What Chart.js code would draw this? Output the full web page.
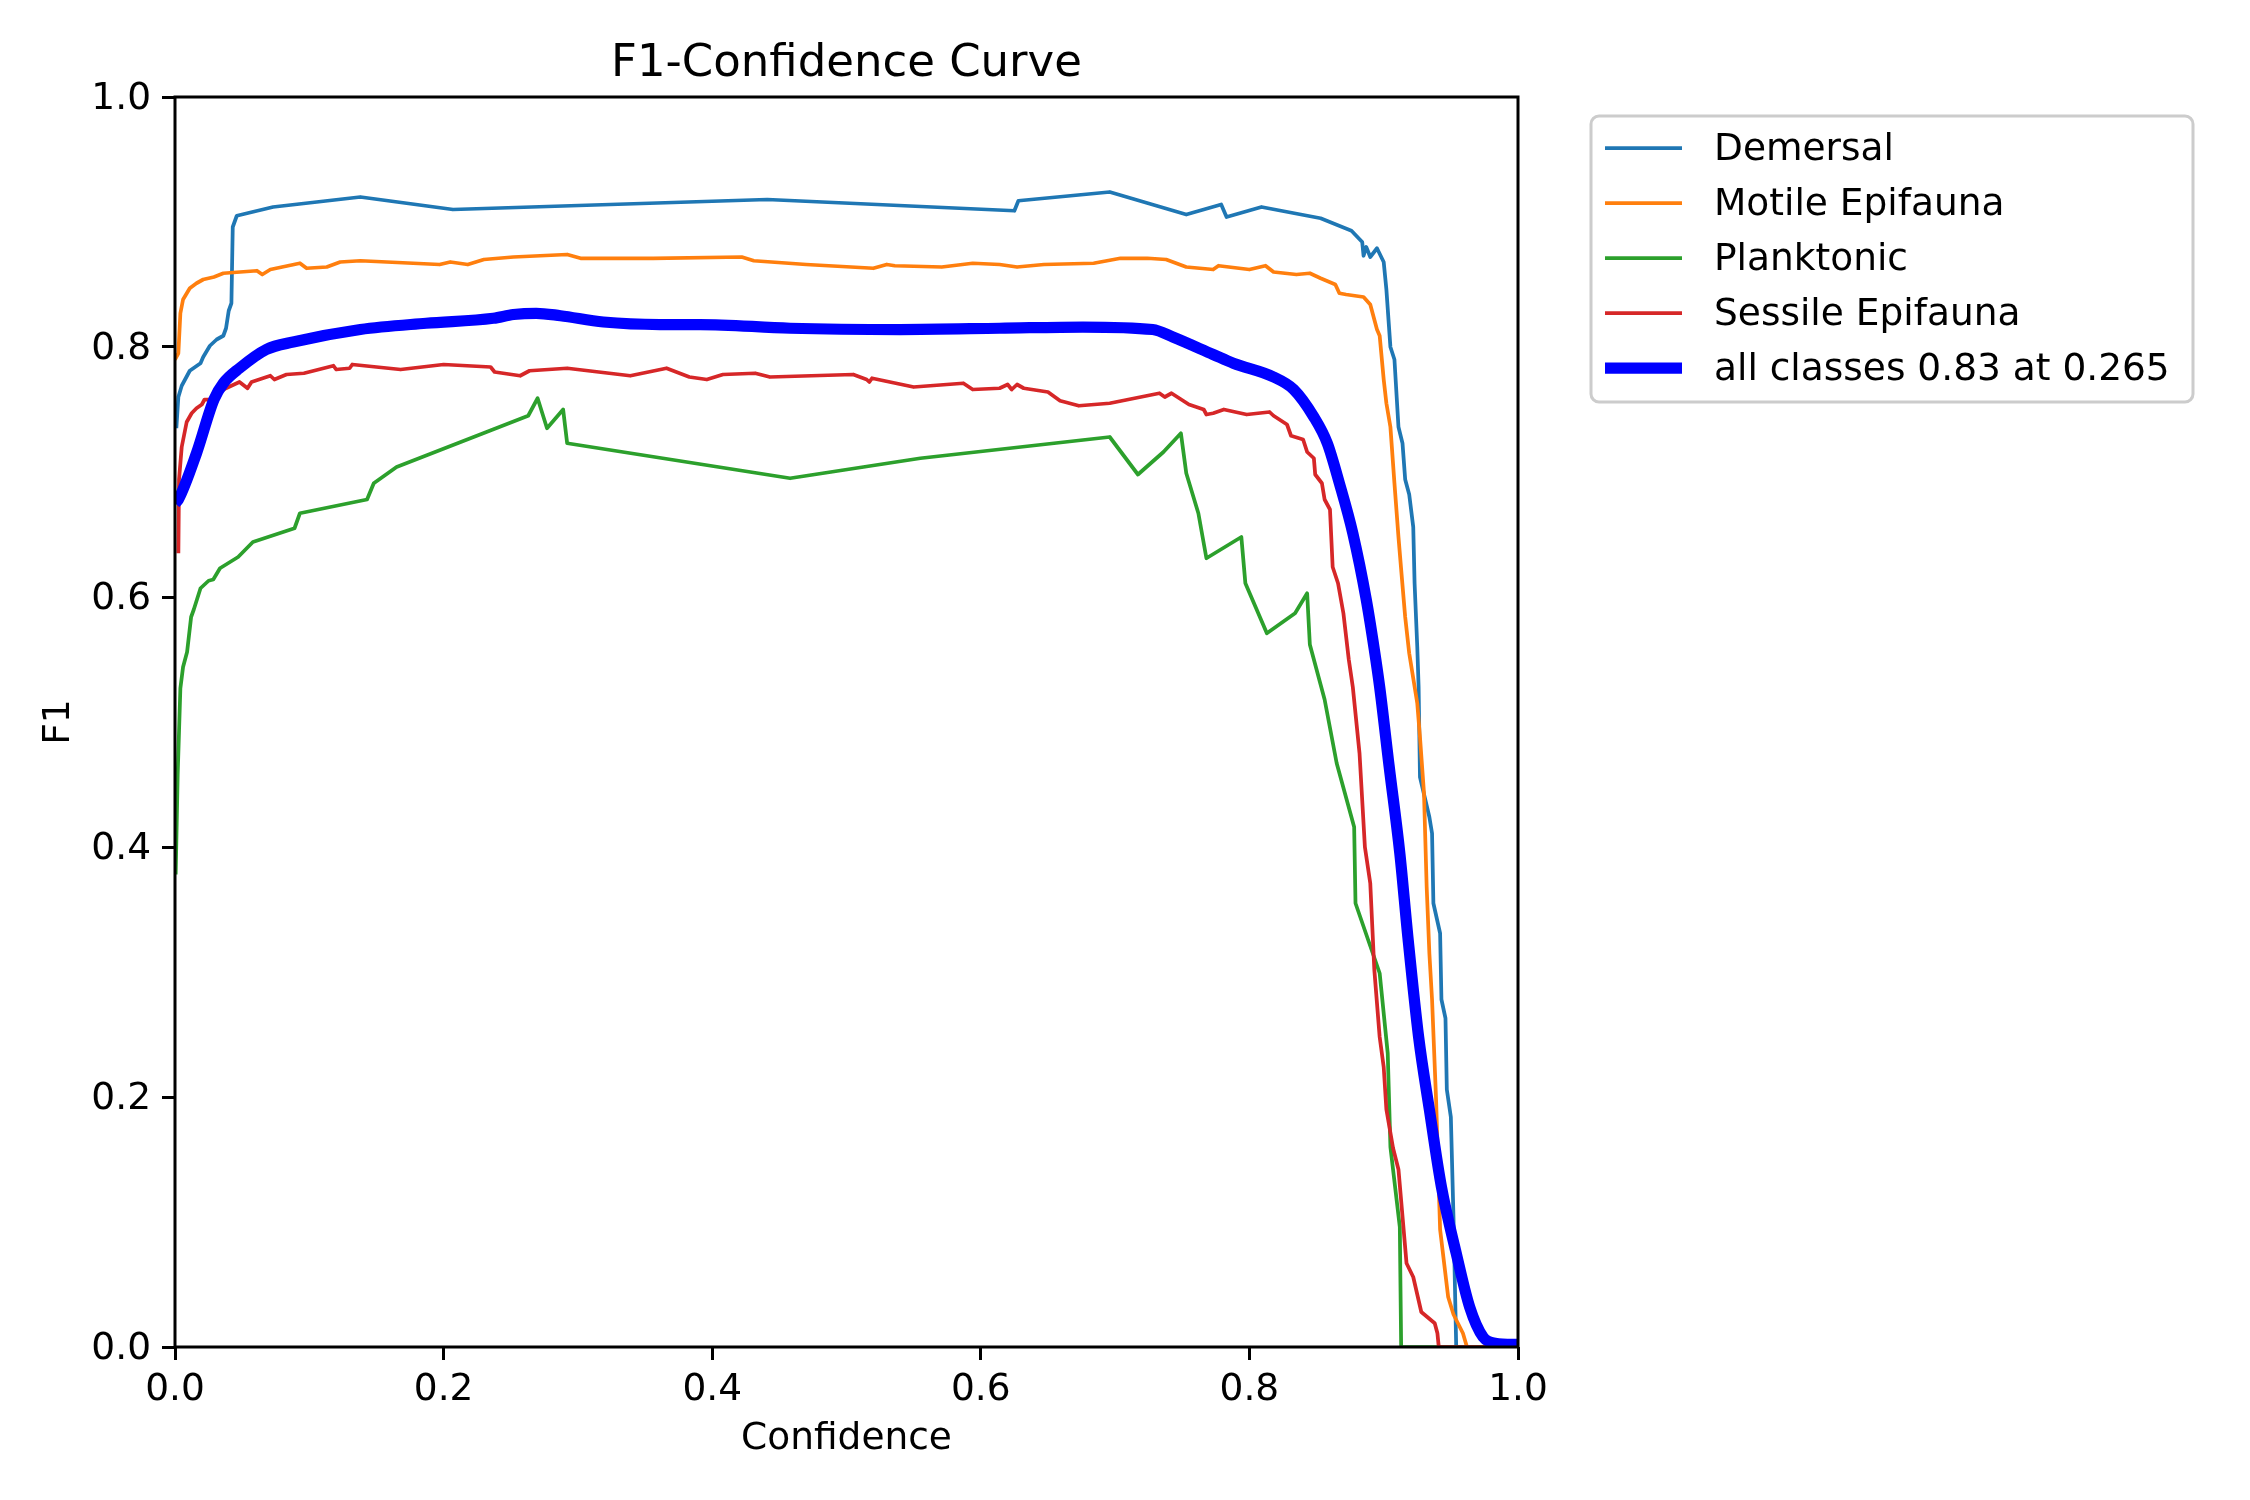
<!DOCTYPE html>
<html>
<head>
<meta charset="utf-8">
<title>F1-Confidence Curve</title>
<script src="https://cdn.jsdelivr.net/npm/chart.js@4.4.0/dist/chart.umd.min.js"></script>
<style>
  body { margin: 0; background: #fff; }
  canvas { display: block; }
</style>
</head>
<body>
<canvas id="myChart" width="2250" height="1500"></canvas>
<script>
// F1 vs confidence as [confidence, F1] pairs
const titleText = 'F1-Confidence Curve'
const xLabel = 'Confidence'
const yLabel = 'F1'
const tickValues = [0, 0.2, 0.4, 0.6, 0.8, 1.0]

const labels = ['Demersal', 'Motile Epifauna', 'Planktonic', 'Sessile Epifauna', 'all classes 0.83 at 0.265']
const colors = ['#1f77b4', '#ff7f0e', '#2ca02c', '#d62728', '#0000ff']

const demersal = [[0.001,0.735],[0.0025,0.760],[0.005,0.769],[0.011,0.781],[0.019,0.787],[0.021,0.792],[0.026,0.801],[0.031,0.806],[0.036,0.809],[0.038,0.815],[0.040,0.829],[0.042,0.835],[0.043,0.896],[0.046,0.905],[0.073,0.912],[0.138,0.920],[0.207,0.910],[0.441,0.918],[0.625,0.909],[0.628,0.917],[0.696,0.924],[0.753,0.906],[0.779,0.914],[0.783,0.904],[0.809,0.912],[0.853,0.903],[0.876,0.893],[0.884,0.884],[0.885,0.873],[0.887,0.880],[0.890,0.872],[0.895,0.879],[0.900,0.868],[0.902,0.846],[0.905,0.800],[0.908,0.790],[0.911,0.736],[0.914,0.723],[0.916,0.694],[0.919,0.682],[0.922,0.656],[0.923,0.611],[0.925,0.560],[0.926,0.528],[0.927,0.456],[0.934,0.424],[0.936,0.411],[0.937,0.355],[0.942,0.331],[0.943,0.278],[0.946,0.263],[0.947,0.206],[0.950,0.184],[0.952,0.102],[0.954,0.0],[1.0,0.0]]

const motile = [[0.0,0.790],[0.0025,0.795],[0.004,0.827],[0.006,0.838],[0.011,0.847],[0.016,0.851],[0.021,0.854],[0.029,0.856],[0.036,0.859],[0.061,0.861],[0.065,0.858],[0.071,0.862],[0.093,0.867],[0.098,0.863],[0.113,0.864],[0.123,0.868],[0.138,0.869],[0.197,0.866],[0.205,0.868],[0.218,0.866],[0.230,0.870],[0.252,0.872],[0.292,0.874],[0.302,0.871],[0.356,0.871],[0.422,0.872],[0.431,0.869],[0.470,0.866],[0.520,0.863],[0.530,0.866],[0.536,0.865],[0.571,0.864],[0.594,0.867],[0.614,0.866],[0.627,0.864],[0.647,0.866],[0.684,0.867],[0.704,0.871],[0.724,0.871],[0.738,0.870],[0.753,0.864],[0.773,0.862],[0.777,0.865],[0.800,0.862],[0.812,0.865],[0.818,0.860],[0.835,0.858],[0.845,0.859],[0.853,0.855],[0.864,0.850],[0.867,0.843],[0.872,0.842],[0.885,0.840],[0.890,0.834],[0.895,0.814],[0.897,0.809],[0.900,0.774],[0.902,0.755],[0.905,0.736],[0.908,0.691],[0.911,0.648],[0.913,0.622],[0.916,0.584],[0.919,0.555],[0.925,0.515],[0.927,0.488],[0.930,0.443],[0.932,0.368],[0.934,0.315],[0.936,0.278],[0.939,0.198],[0.942,0.094],[0.948,0.040],[0.952,0.026],[0.959,0.011],[0.962,0.0],[1.0,0.0]]

const planktonic = [[0.0005,0.378],[0.002,0.458],[0.004,0.527],[0.006,0.544],[0.009,0.556],[0.012,0.584],[0.014,0.590],[0.019,0.607],[0.025,0.613],[0.0285,0.614],[0.0335,0.623],[0.047,0.632],[0.058,0.644],[0.089,0.655],[0.093,0.667],[0.143,0.678],[0.148,0.691],[0.165,0.704],[0.263,0.745],[0.270,0.759],[0.277,0.735],[0.289,0.750],[0.292,0.723],[0.458,0.695],[0.555,0.711],[0.696,0.728],[0.717,0.698],[0.736,0.716],[0.749,0.731],[0.753,0.699],[0.762,0.667],[0.768,0.631],[0.794,0.648],[0.797,0.611],[0.813,0.571],[0.834,0.587],[0.843,0.603],[0.845,0.562],[0.856,0.518],[0.865,0.467],[0.878,0.416],[0.879,0.355],[0.897,0.299],[0.903,0.235],[0.905,0.160],[0.912,0.096],[0.913,0.0],[1.0,0.0]]

const sessile = [[0.0025,0.635],[0.003,0.694],[0.005,0.720],[0.0087,0.740],[0.0124,0.747],[0.016,0.751],[0.020,0.754],[0.022,0.758],[0.026,0.758],[0.030,0.754],[0.032,0.763],[0.038,0.767],[0.048,0.772],[0.054,0.767],[0.057,0.772],[0.071,0.777],[0.074,0.774],[0.083,0.778],[0.096,0.779],[0.118,0.785],[0.120,0.782],[0.130,0.783],[0.132,0.786],[0.168,0.782],[0.200,0.786],[0.235,0.784],[0.238,0.780],[0.257,0.777],[0.264,0.781],[0.292,0.783],[0.339,0.777],[0.366,0.783],[0.383,0.776],[0.396,0.774],[0.408,0.778],[0.432,0.779],[0.443,0.776],[0.505,0.778],[0.515,0.774],[0.517,0.772],[0.519,0.775],[0.550,0.768],[0.587,0.771],[0.594,0.766],[0.614,0.767],[0.620,0.770],[0.623,0.766],[0.627,0.770],[0.632,0.767],[0.650,0.764],[0.659,0.757],[0.673,0.753],[0.696,0.755],[0.733,0.763],[0.737,0.760],[0.742,0.763],[0.755,0.754],[0.766,0.750],[0.768,0.746],[0.773,0.747],[0.781,0.750],[0.798,0.746],[0.815,0.748],[0.818,0.745],[0.828,0.738],[0.831,0.729],[0.840,0.726],[0.843,0.716],[0.848,0.711],[0.849,0.698],[0.854,0.691],[0.856,0.678],[0.860,0.670],[0.862,0.624],[0.866,0.611],[0.870,0.587],[0.874,0.550],[0.877,0.528],[0.882,0.475],[0.886,0.400],[0.890,0.371],[0.893,0.302],[0.897,0.248],[0.900,0.224],[0.902,0.190],[0.907,0.159],[0.911,0.142],[0.917,0.067],[0.922,0.056],[0.928,0.028],[0.938,0.019],[0.940,0.011],[0.941,0.0],[1.0,0.0]]

const allClasses = [[0.0,0.675],[0.0025,0.678],[0.016,0.715],[0.029,0.758],[0.036,0.771],[0.048,0.783],[0.068,0.798],[0.088,0.804],[0.138,0.814],[0.187,0.819],[0.237,0.823],[0.252,0.826],[0.269,0.827],[0.287,0.825],[0.319,0.820],[0.361,0.818],[0.391,0.818],[0.458,0.815],[0.540,0.814],[0.614,0.815],[0.676,0.816],[0.728,0.814],[0.743,0.808],[0.773,0.794],[0.788,0.787],[0.818,0.776],[0.833,0.766],[0.848,0.744],[0.858,0.723],[0.867,0.691],[0.877,0.651],[0.887,0.598],[0.893,0.558],[0.897,0.528],[0.904,0.465],[0.912,0.395],[0.918,0.328],[0.926,0.248],[0.934,0.190],[0.943,0.128],[0.954,0.075],[0.964,0.032],[0.974,0.008],[0.983,0.003],[1.0,0.002]]

const series = [demersal, motile, planktonic, sessile, allClasses]

const FONT = 'DejaVu Sans'
const fs = 37.5
const ctx = document.getElementById('myChart')

Chart.defaults.font.family = FONT
Chart.defaults.color = '#000'

const datasets = series.map((pts, i) => ({
    label: labels[i],
    data: pts.map(p => ({ x: p[0], y: p[1] })),
    borderColor: colors[i],
    backgroundColor: colors[i],
    borderWidth: i === 4 ? 11.25 : 3.75,
    pointRadius: 0,
    tension: 0,
    // the mean curve is smooth in the picture
    cubicInterpolationMode: i === 4 ? 'monotone' : 'default',
    fill: false,
    clip: 0,
    borderJoinStyle: 'round',
    order: 4 - i
}))

// frame, title and the legend box drawn the way matplotlib lays them out
const extras = {
    id: 'extras',
    afterDatasetsDraw(chart) {
        const c = chart.ctx
        const a = chart.chartArea
        c.save()
        c.strokeStyle = '#000'
        c.lineWidth = 3
        c.strokeRect(a.left, a.top, a.right - a.left, a.bottom - a.top)
        c.restore()
    },
    afterDraw(chart) {
        const c = chart.ctx
        const a = chart.chartArea
        c.save()
        c.fillStyle = '#000'
        c.font = '45px "' + FONT + '"'
        c.textAlign = 'center'
        c.textBaseline = 'alphabetic'
        c.fillText(titleText, (a.left + a.right) / 2, 76)

        // legend
        const bx = 1591, by = 116, bw = 602, bh = 286, r = 8
        c.beginPath()
        c.roundRect(bx, by, bw, bh, r)
        c.fillStyle = 'rgba(255,255,255,0.8)'
        c.fill()
        c.strokeStyle = '#cccccc'
        c.lineWidth = 3
        c.stroke()
        c.font = fs + 'px "' + FONT + '"'
        c.textAlign = 'left'
        c.textBaseline = 'middle'
        chart.data.datasets.forEach((ds, i) => {
            const y = 148 + i * 55
            c.beginPath()
            c.moveTo(1605, y)
            c.lineTo(1682, y)
            c.strokeStyle = ds.borderColor
            c.lineWidth = ds.borderWidth
            c.stroke()
            c.fillStyle = '#000'
            c.fillText(ds.label, 1714, y + 2)
        })
        c.restore()
    }
}

new Chart(ctx, {
    type: 'line',
    data: { datasets: datasets },
    plugins: [extras],
    options: {
        responsive: false,
        animation: false,
        devicePixelRatio: 1,
        layout: { padding: { left: 0, top: 97, right: 732, bottom: 0 } },
        plugins: {
            legend: { display: false },
            tooltip: { enabled: false },
            title: { display: false }
        },
        scales: {
            x: {
                type: 'linear',
                min: 0,
                max: 1,
                afterFit(scale) { scale.height = 153 },
                afterBuildTicks(scale) { scale.ticks = tickValues.map(v => ({ value: v })) },
                ticks: {
                    callback: v => v.toFixed(1),
                    font: { size: fs },
                    color: '#000',
                    padding: 8,
                    maxRotation: 0,
                    autoSkip: false
                },
                grid: {
                    drawOnChartArea: false,
                    drawTicks: true,
                    tickLength: 13,
                    tickWidth: 3,
                    tickColor: '#000'
                },
                border: { display: false },
                title: {
                    display: true,
                    text: xLabel,
                    font: { size: fs },
                    color: '#000',
                    padding: { top: 0, bottom: 38 }
                }
            },
            y: {
                type: 'linear',
                min: 0,
                max: 1,
                afterFit(scale) { scale.width = 175 },
                afterBuildTicks(scale) { scale.ticks = tickValues.map(v => ({ value: v })) },
                ticks: {
                    callback: v => v.toFixed(1),
                    font: { size: fs },
                    color: '#000',
                    padding: 11,
                    labelOffset: 2,
                    autoSkip: false
                },
                grid: {
                    drawOnChartArea: false,
                    drawTicks: true,
                    tickLength: 13,
                    tickWidth: 3,
                    tickColor: '#000'
                },
                border: { display: false },
                title: {
                    display: true,
                    text: yLabel,
                    font: { size: fs },
                    color: '#000',
                    padding: { top: 37, bottom: 0 }
                }
            }
        }
    }
})
</script>
</body>
</html>
